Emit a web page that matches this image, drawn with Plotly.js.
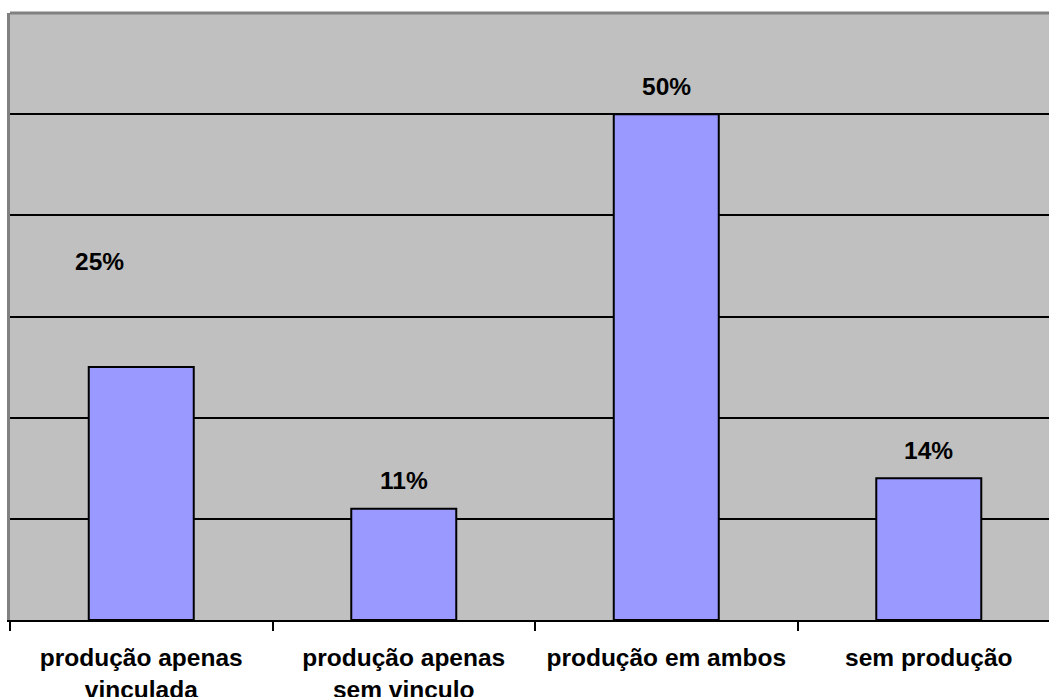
<!DOCTYPE html>
<html>
<head>
<meta charset="utf-8">
<script src="https://cdn.plot.ly/plotly-3.0.1.min.js"></script>
<style>html,body{margin:0;padding:0;background:#fff;overflow:hidden}</style>
</head>
<body>
<div id="chart" style="width:1049px;height:697px"></div>
<script>
const categories = ["produção apenas<br>vinculada", "produção apenas<br>sem vinculo", "produção em ambos", "sem produção"];
const values = [25, 11, 50, 14];
const valueLabels = ["25%", "11%", "50%", "14%"];
const gridValues = [10, 20, 30, 40, 50];

const labelFont = {family: "Liberation Sans, Arial, sans-serif", size: 24.5, color: "#000", weight: "bold"};

const annotations = categories.map((c, i) => ({
  x: c, y: values[i], xref: "x", yref: "y",
  text: "<b>" + valueLabels[i] + "</b>",
  showarrow: false, yanchor: "middle", xanchor: "center",
  yshift: i === 0 ? 106 : 28,
  xshift: i === 0 ? -42 : 0,
  font: labelFont
}));

const data = [{
  type: "bar",
  x: categories,
  y: values,
  width: 0.4,
  marker: {color: "#9999FF", line: {color: "#000", width: 2}},
  hoverinfo: "skip"
}];

const layout = {
  width: 1049, height: 697,
  margin: {l: 10, r: 0, t: 13, b: 77, pad: 0},
  paper_bgcolor: "#FFFFFF",
  plot_bgcolor: "#C0C0C0",
  showlegend: false,
  font: labelFont,
  xaxis: {
    type: "category",
    range: [-0.5, 3.458],
    showline: true, linecolor: "#000", linewidth: 2,
    ticks: "outside", tickson: "boundaries", ticklen: 9, tickwidth: 2, tickcolor: "#000",
    ticklabelstandoff: 15,
    tickfont: labelFont,
    showgrid: false, zeroline: false,
    fixedrange: true
  },
  yaxis: {
    range: [0, 60],
    tickmode: "array", tickvals: gridValues,
    showticklabels: false, ticks: "",
    showgrid: true, gridcolor: "#000", gridwidth: 2,
    zeroline: false,
    showline: true, linecolor: "#808080", linewidth: 3,
    fixedrange: true
  },
  shapes: [{
    type: "line", xref: "paper", yref: "paper",
    x0: 0, x1: 1, y0: 1, y1: 1,
    line: {color: "#808080", width: 3}
  }],
  annotations: annotations
};

Plotly.newPlot("chart", data, layout, {displayModeBar: false, staticPlot: true});
</script>
</body>
</html>
